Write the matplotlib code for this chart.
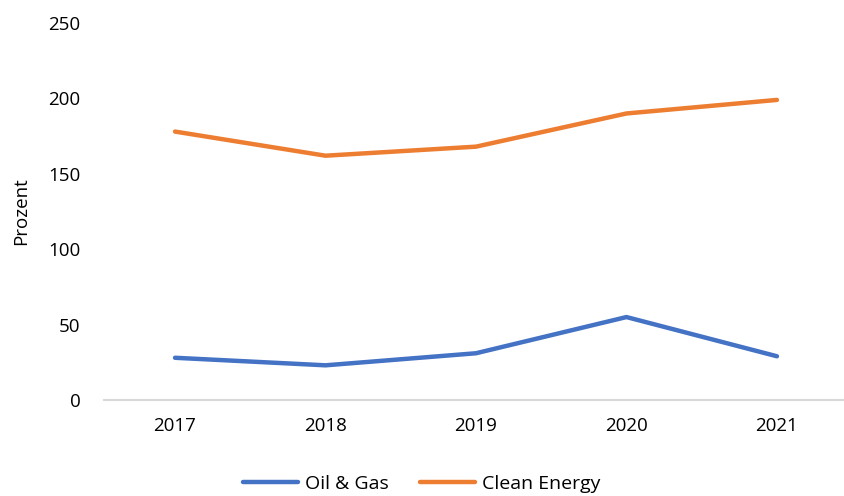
import numpy as np
import matplotlib.pyplot as plt

plt.rcParams['font.family'] = ['Open Sans', 'DejaVu Sans']

# Daten
jahre = ['2017', '2018', '2019', '2020', '2021']
oil_gas = [28, 23, 31, 55, 29]
clean_energy = [178, 162, 168, 190, 199]

fig = plt.figure(figsize=(8.44, 4.96), dpi=100)
ax = fig.add_axes([104 / 844, 96 / 496, 739 / 844, 377 / 496])

x = np.arange(len(jahre))
ax.plot(x, oil_gas, color='#4472C4', linewidth=3.2, solid_capstyle='round',
        label='Oil & Gas')
ax.plot(x, clean_energy, color='#ED7D31', linewidth=3.2, solid_capstyle='round',
        label='Clean Energy')

ax.set_xlim(-0.472, 4.439)
ax.set_ylim(0, 250)
ax.set_yticks([0, 50, 100, 150, 200, 250])
ax.set_xticks(x)
ax.set_xticklabels(jahre)

for s in ['top', 'right', 'left']:
    ax.spines[s].set_visible(False)
ax.spines['bottom'].set_color('#D9D9D9')
ax.spines['bottom'].set_linewidth(1.5)
ax.tick_params(axis='both', length=0, labelsize=13.5, colors='black')
ax.tick_params(axis='y', pad=17)
ax.tick_params(axis='x', pad=12)

ax.set_ylabel('Prozent', fontsize=13.5)
ax.yaxis.set_label_coords(-0.1, 0.5)

fig.legend(loc='center', bbox_to_anchor=(0.5, 0.024), ncol=2, frameon=False,
           fontsize=14, handlelength=2.8, columnspacing=1.6, handletextpad=0.4)

plt.savefig('out.png', dpi=100)
